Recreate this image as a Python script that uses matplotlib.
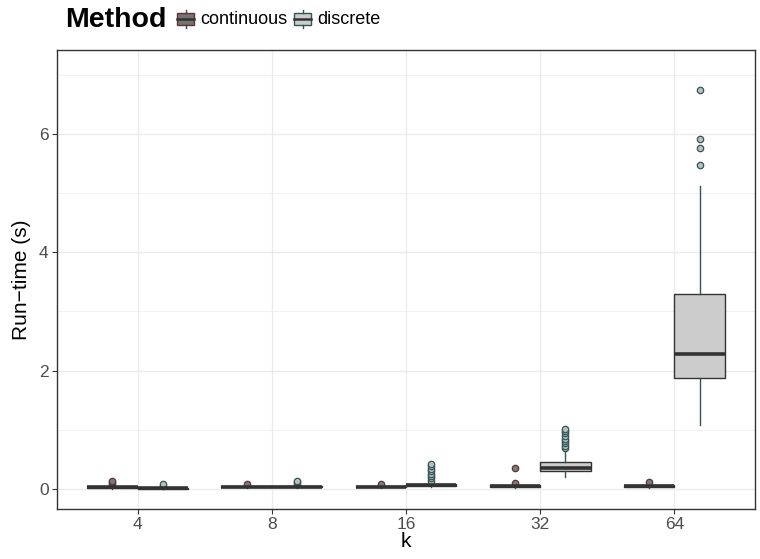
import matplotlib
matplotlib.use("Agg")
import matplotlib.pyplot as plt
from matplotlib.patches import Rectangle
from matplotlib.lines import Line2D

plt.rcParams['font.family'] = ['Liberation Sans', 'DejaVu Sans']

# ---- data -------------------------------------------------------------
k_labels = ["4", "8", "16", "32", "64"]
methods = ["continuous", "discrete"]

# box statistics per k (continuous)
cont_q1 = [0.015, 0.025, 0.025, 0.030, 0.040]
cont_med = [0.027, 0.040, 0.040, 0.045, 0.055]
cont_q3 = [0.040, 0.050, 0.050, 0.060, 0.070]
cont_lo = [0.005, 0.010, 0.010, 0.015, 0.020]
cont_hi = [0.070, 0.075, 0.075, 0.090, 0.100]
cont_fliers = [
    [0.09, 0.11, 0.14],
    [0.09],
    [0.085],
    [0.10, 0.35],
    [0.11],
]

# box statistics per k (discrete)
disc_q1 = [0.000, 0.025, 0.055, 0.30, 1.873]
disc_med = [0.010, 0.040, 0.070, 0.36, 2.278]
disc_q3 = [0.020, 0.050, 0.085, 0.45, 3.290]
disc_lo = [0.000, 0.010, 0.040, 0.20, 1.080]
disc_hi = [0.040, 0.070, 0.110, 0.66, 5.117]
disc_fliers = [
    [0.05, 0.08],
    [0.09, 0.11, 0.14],
    [0.14, 0.18, 0.22, 0.26, 0.30, 0.34, 0.38, 0.42],
    [0.69, 0.73, 0.77, 0.81, 0.85, 0.89, 0.94, 0.98, 1.02],
    [5.47, 5.77, 5.92, 6.75],
]

# ---- styling ----------------------------------------------------------
fill_cont = "#737373"
fill_disc = "#cccccc"
edge_cont = "#5e3434"
edge_disc = "#2f5656"
flier_cont = "#7a7a7a"
flier_disc = "#bdbdbd"
median_col = "#333333"
grid_col = "#ebebeb"

fig = plt.figure(figsize=(7.6, 5.59), dpi=100)
W, H = 760, 559
ax = fig.add_axes([57 / W, 1 - 509 / H, (755 - 57) / W, (509 - 50) / H])


def stats_for(q1, med, q3, lo, hi, fl):
    return [dict(q1=a, med=b, q3=c, whislo=d, whishi=e, fliers=f)
            for a, b, c, d, e, f in zip(q1, med, q3, lo, hi, fl)]


n = len(k_labels)
offset = 0.1875
width = 0.375

for stats, pos, fill, edge, fl_col in [
    (stats_for(cont_q1, cont_med, cont_q3, cont_lo, cont_hi, cont_fliers),
     [i - offset for i in range(n)], fill_cont, edge_cont, flier_cont),
    (stats_for(disc_q1, disc_med, disc_q3, disc_lo, disc_hi, disc_fliers),
     [i + offset for i in range(n)], fill_disc, edge_disc, flier_disc),
]:
    ax.bxp(stats, positions=pos, widths=width, patch_artist=True,
           showcaps=False, manage_ticks=False,
           boxprops=dict(facecolor=fill, edgecolor=median_col, linewidth=1.0),
           whiskerprops=dict(color=edge, linewidth=1.0),
           medianprops=dict(color=median_col, linewidth=2.6, solid_capstyle='butt'),
           flierprops=dict(marker='o', markersize=4.6, markerfacecolor=fl_col,
                           markeredgecolor=edge, markeredgewidth=0.9),
           zorder=3)

ax.set_xlim(-0.6, n - 1 + 0.6)
ax.set_ylim(-0.34, 7.42)
ax.set_xticks(range(n))
ax.set_xticklabels(k_labels)
ax.set_yticks([0, 2, 4, 6])
ax.set_yticks([1, 3, 5, 7], minor=True)

ax.grid(True, which='major', color=grid_col, linewidth=1.0, zorder=0)
ax.grid(True, which='minor', axis='y', color=grid_col, linewidth=0.5, zorder=0)
ax.set_axisbelow(True)

for s in ax.spines.values():
    s.set_color("#333333")
    s.set_linewidth(1.0)

ax.tick_params(axis='both', which='major', length=3.5, width=0.8,
               color="#333333", labelcolor="#4d4d4d", labelsize=12.5, pad=2.5)
ax.tick_params(axis='y', which='minor', length=0)

ax.set_xlabel("k", fontsize=15, labelpad=0)
ax.set_ylabel("Run\u2212time (s)", fontsize=15, labelpad=6)

# ---- legend across the top ---------------------------------------------
fig.text(65 / W, 1 - 20 / H, "Method", fontsize=20.5, fontweight='bold',
         ha='left', va='center')


def legend_key(x0, fill, edge):
    # small boxplot glyph in figure pixel coordinates
    x1, x2 = x0, x0 + 19
    xc = (x1 + x2) / 2
    ytop, ybot = 10, 28
    bt, bb = 13, 25
    fy = lambda y: 1 - y / H
    fx = lambda x: x / W
    fig.add_artist(Line2D([fx(xc), fx(xc)], [fy(ytop), fy(bt)], color=edge, lw=1.0))
    fig.add_artist(Line2D([fx(xc), fx(xc)], [fy(bb), fy(ybot)], color=edge, lw=1.0))
    fig.add_artist(Rectangle((fx(x1 + 1), fy(bb)), fx(x2 - x1 - 2), (bb - bt) / H,
                             transform=fig.transFigure, facecolor=fill,
                             edgecolor=edge, lw=1.0))
    fig.add_artist(Line2D([fx(x1 + 1), fx(x2 - 1)], [fy(19), fy(19)],
                          color=median_col, lw=1.8))


legend_key(176, fill_cont, edge_cont)
fig.text(200 / W, 1 - 20 / H, methods[0], fontsize=13, ha='left', va='center')
legend_key(293, fill_disc, edge_disc)
fig.text(317 / W, 1 - 20 / H, methods[1], fontsize=13, ha='left', va='center')

fig.savefig("out.png", dpi=100)
